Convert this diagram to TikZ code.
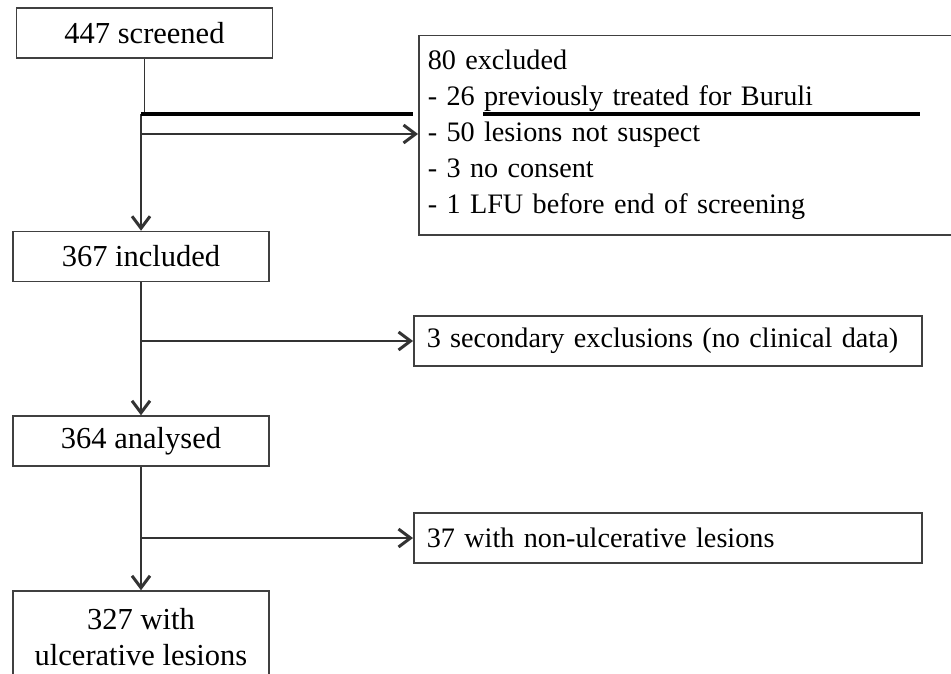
\documentclass[tikz,border=0pt]{standalone}
\usepackage{fontspec}
\setmainfont{Liberation Serif}
\usetikzlibrary{arrows.meta,positioning,calc}

\begin{document}
\begin{tikzpicture}[x=1pt,y=-1pt,
						>={Straight Barb[length=12pt,width=18pt,line width=3pt]},
						box/.style={
							rectangle,
							draw=black!75, line width=1.5pt,
							minimum height=50pt,
							minimum width=256pt,
							inner sep=0pt,
							font=\fontsize{30.5}{36}\selectfont,
							align=center
						},
						sidebox/.style={
							rectangle,
							draw=black!75, line width=1.5pt,
							minimum height=50pt,
							minimum width=508pt,
							text width=482pt,
							inner xsep=13pt,
							font=\fontsize{28.2}{36}\selectfont,
							anchor=west,
							align=left
						},
						flow/.style={line width=1.5pt, draw=black!80}]

						\useasboundingbox (0,0) rectangle (951,674);

						% Main column of the flow chart
						\node [box] (screened) at (144.5,33) {447 screened};
						\node [box] (included) at (141,256.5) {367 included};
						\node [box] (analysed) at (141,441) {364 analysed};
						\node [box, minimum height=93pt] (ulcer) at (141,637.5) {327 with\\ulcerative lesions};

						% Boxes on the right
						\node [sidebox, anchor=north west, minimum width=535pt, minimum height=199pt,
							text width=517pt, inner xsep=9pt] (excluded) at (418,35)
							{80 excluded\\- 26 previously treated for Buruli\\- 50 lesions not suspect\\- 3 no consent\\- 1 LFU before end of screening};
						\node [sidebox] (secondary) at (413,341) {3 secondary exclusions (no clinical data)};
						\node [sidebox] (nonulcer) at (413,538) {37 with non-ulcerative lesions};

						% Split points on the main line
						\coordinate (splitA) at (141,114);
						\coordinate (splitB) at (141,134);

						%% Connectors
						\draw [flow] (screened.south) -- (screened.south |- splitA);
						\draw [flow, ->] (splitA) -- (included.north);
						\draw [flow, ->] (splitB) -- (excluded.west |- splitB);
						\draw [line width=4.5pt] (splitA) -- (413,114);
						\draw [line width=4.5pt] (483,114) -- (920,114);

						\draw [flow, ->] (included.south) -- (analysed.north);
						\draw [flow, ->] (included.south |- secondary.west) -- (secondary.west);

						\draw [flow, ->] (analysed.south) -- (ulcer.north);
						\draw [flow, ->] (analysed.south |- nonulcer.west) -- (nonulcer.west);
					\end{tikzpicture}
\end{document}
